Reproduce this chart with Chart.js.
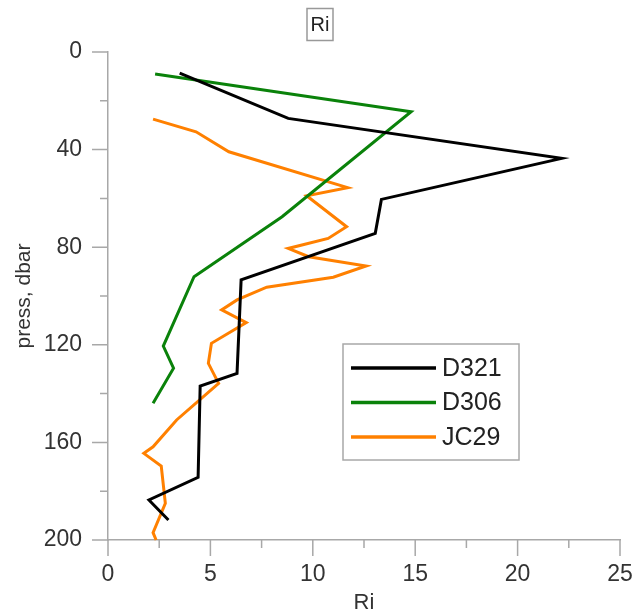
<!DOCTYPE html>
<html>
<head>
<meta charset="utf-8">
<script src="https://cdn.jsdelivr.net/npm/chart.js@4.4.0/dist/chart.umd.min.js"></script>
<style>
  html, body { margin: 0; padding: 0; background: #fff; }
  #wrap { width: 634px; height: 616px; }
</style>
</head>
<body>
<div id="wrap"><canvas id="riChart" width="634" height="616"></canvas></div>
<script>
// values (Ri vs pressure)
const d321Ri    = [3.5, 8.8, 22.15, 13.35, 13.05, 6.5, 6.3, 4.5, 4.4, 2.0, 2.95];
const d321Press = [8.7, 27.2, 43.6, 60.4, 74.3, 93.4, 131.7, 136.9, 174.3, 183.6, 191.8];

const d306Ri    = [2.3, 14.8, 8.5, 4.2, 2.7, 3.2, 2.2];
const d306Press = [9.0, 24.5, 67.5, 92.1, 120.5, 129.6, 144.0];

const jc29Ri    = [2.2, 4.3, 5.9, 11.7, 9.7, 11.65, 10.75, 8.8, 9.8, 12.6, 11.0, 7.75, 6.3,
                   5.55, 6.75, 5.05, 4.9, 5.4, 3.35, 2.2, 1.75, 2.6, 2.8, 2.2, 2.35];
const jc29Press = [27.5, 32.7, 40.9, 55.6, 58.9, 71.6, 76.4, 80.5, 83.9, 87.7, 92.3, 96.4, 101.6,
                   105.7, 110.9, 119.4, 127.6, 135.8, 150.8, 161.8, 164.5, 169.7, 185.0, 197.0, 200.0];

const seriesNames = ['D321', 'D306', 'JC29'];
const xTicks = [0, 5, 10, 15, 20, 25];
const yTicks = [0, 40, 80, 120, 160, 200];

const pts = (xs, ys) => xs.map((x, i) => ({ x: x, y: ys[i] }));

const FONT = "'Liberation Sans', Arial, sans-serif";
const AXIS_GRAY = '#a8a8a8';

// ticks: long on labelled values, short in between
const tickPlugin = {
    id: 'tickMarks',
    afterDraw(chart) {
        const ctx = chart.ctx;
        const xs = chart.scales.x, ys = chart.scales.y;
        const area = chart.chartArea;
        ctx.save();
        ctx.strokeStyle = AXIS_GRAY;
        ctx.lineWidth = 1.5;
        ctx.beginPath();
        for (let v = 0; v <= 25; v += 2.5) {
            const px = xs.getPixelForValue(v);
            const len = xTicks.includes(v) ? 16 : 8;
            ctx.moveTo(px, area.bottom);
            ctx.lineTo(px, area.bottom + len);
        }
        for (let v = 0; v <= 200; v += 20) {
            const py = ys.getPixelForValue(v);
            const len = yTicks.includes(v) ? 16 : 8;
            ctx.moveTo(area.left, py);
            ctx.lineTo(area.left - len, py);
        }
        ctx.stroke();
        ctx.restore();
    }
};

// boxed title and boxed legend inside the plot
const boxPlugin = {
    id: 'boxes',
    afterDraw(chart) {
        const ctx = chart.ctx;
        const area = chart.chartArea;
        ctx.save();

        // title
        ctx.font = '20px ' + FONT;
        ctx.fillStyle = '#222';
        ctx.textAlign = 'center';
        ctx.textBaseline = 'middle';
        ctx.fillText('Ri', 320, 25);
        ctx.strokeStyle = '#999';
        ctx.lineWidth = 1.5;
        ctx.strokeRect(307, 8.5, 26, 32);

        // legend
        const lx = 343, ly = 344;
        ctx.strokeStyle = AXIS_GRAY;
        ctx.lineWidth = 1.5;
        ctx.strokeRect(lx, ly, 176, 116);
        ctx.font = '25px ' + FONT;
        ctx.textAlign = 'left';
        chart.data.datasets.forEach((ds, i) => {
            const y = ly + 24 + i * 34.5;
            ctx.strokeStyle = ds.borderColor;
            ctx.lineWidth = 3.5;
            ctx.beginPath();
            ctx.moveTo(lx + 8, y);
            ctx.lineTo(lx + 93, y);
            ctx.stroke();
            ctx.fillStyle = '#222';
            ctx.fillText(ds.label, lx + 99, y + 1);
        });
        ctx.restore();
    }
};

new Chart(document.getElementById('riChart'), {
    type: 'scatter',
    data: {
        datasets: [
            { label: seriesNames[0], data: pts(d321Ri, d321Press), borderColor: '#000000' },
            { label: seriesNames[1], data: pts(d306Ri, d306Press), borderColor: '#0a820a' },
            { label: seriesNames[2], data: pts(jc29Ri, jc29Press), borderColor: '#ff8000' }
        ].map(ds => Object.assign(ds, {
            showLine: true,
            borderWidth: 3,
            pointRadius: 0,
            tension: 0,
            clip: false,
            backgroundColor: ds.borderColor
        }))
    },
    options: {
        responsive: false,
        animation: false,
        layout: { padding: { top: 52, right: 14, left: 0, bottom: 0 } },
        plugins: {
            legend: { display: false },
            title: { display: false },
            tooltip: { enabled: false }
        },
        scales: {
            x: {
                type: 'linear',
                min: 0,
                max: 25,
                afterFit: s => { s.height = 76; s.paddingLeft = 0; s.paddingRight = 0; },
                ticks: {
                    stepSize: 2.5,
                    autoSkip: false,
                    maxRotation: 0,
                    padding: 5,
                    color: '#333',
                    font: { family: FONT, size: 23 },
                    callback: v => (xTicks.includes(v) ? v : '')
                },
                grid: { drawOnChartArea: false, tickLength: 16, tickColor: 'rgba(0,0,0,0)' },
                border: { color: AXIS_GRAY, width: 1.5 },
                title: {
                    display: true,
                    text: 'Ri',
                    color: '#333',
                    font: { family: FONT, size: 22 },
                    padding: { top: 0, bottom: 0 }
                }
            },
            y: {
                type: 'linear',
                reverse: true,
                min: 0,
                max: 200,
                afterFit: s => { s.width = 108; s.paddingTop = 0; s.paddingBottom = 0; },
                ticks: {
                    stepSize: 20,
                    autoSkip: false,
                    padding: 10,
                    color: '#333',
                    font: { family: FONT, size: 23 },
                    callback: v => (yTicks.includes(v) ? v : '')
                },
                grid: { drawOnChartArea: false, tickLength: 16, tickColor: 'rgba(0,0,0,0)' },
                border: { color: AXIS_GRAY, width: 1.5 },
                title: {
                    display: true,
                    text: 'press, dbar',
                    color: '#333',
                    font: { family: FONT, size: 21 },
                    padding: { top: 12, bottom: 0 }
                }
            }
        }
    },
    plugins: [tickPlugin, boxPlugin]
});
</script>
</body>
</html>
